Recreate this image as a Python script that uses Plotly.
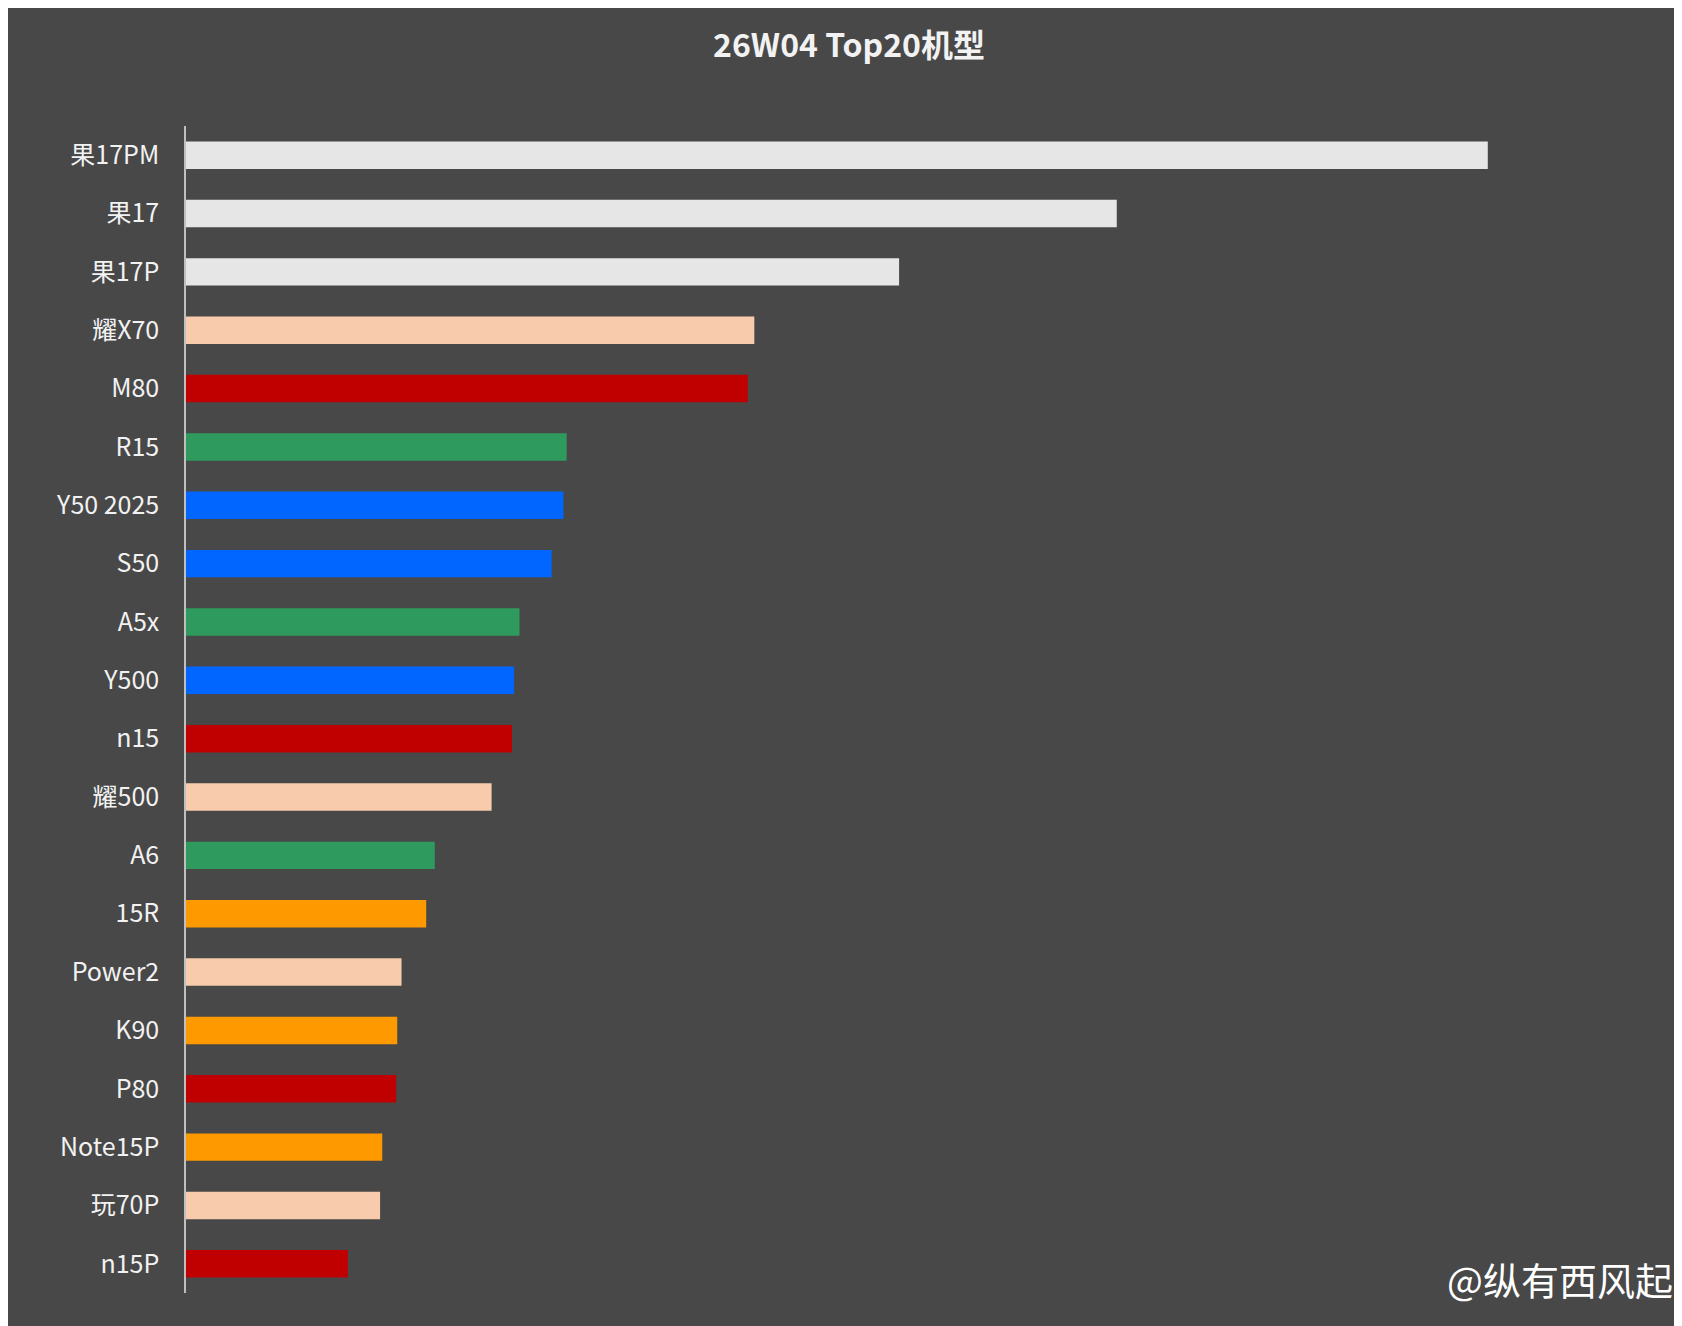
import plotly.graph_objects as go

models = ["果17PM","果17","果17P","耀X70","M80","R15","Y50 2025","S50","A5x","Y500",
          "n15","耀500","A6","15R","Power2","K90","P80","Note15P","玩70P","n15P"]
values = [1214,868,665,530,524,355,352,341,311,306,304,285,232,224,201,197,196,183,181,151]
brands = ["apple","apple","apple","honor","hw","oppo","vivo","vivo","oppo","vivo",
          "hw","honor","oppo","mi","honor","mi","hw","mi","honor","hw"]
palette = {"apple":"#e6e6e6","honor":"#f7cbab","hw":"#c00000","oppo":"#2e9a5e",
           "vivo":"#0066ff","mi":"#ff9900"}
colors = [palette[b] for b in brands]

fig = go.Figure(go.Bar(x=values, y=models, orientation="h", marker=dict(color=colors, line_width=0)))
fig.update_layout(
    width=1682, height=1326,
    paper_bgcolor="#484848", plot_bgcolor="rgba(0,0,0,0)",
    margin=dict(l=178, r=110, t=118, b=41),
    bargap=0.53, showlegend=False,
    title=dict(text="<b>26W04 Top20机型</b>", x=0.5, xanchor="center", y=1-38/1326, yanchor="middle",
               font=dict(family="Noto Sans CJK SC", size=32, color="#f2f2f2")),
    xaxis=dict(range=[0,1300], visible=False),
    yaxis=dict(autorange="reversed", showgrid=False, showline=True, linecolor="#bfbfbf", linewidth=1.5,
               ticks="", ticklabelstandoff=20,
               tickfont=dict(family="Noto Sans CJK SC", size=25, color="#f2f2f2")),
    annotations=[dict(text="@纵有西风起", xref="paper", yref="paper", x=1.0, y=0,
                      xanchor="right", yanchor="bottom", showarrow=False, xshift=95, yshift=-15,
                      font=dict(family="Noto Sans CJK SC", size=38, color="#ffffff"))],
)
fig.write_html("out.html")
